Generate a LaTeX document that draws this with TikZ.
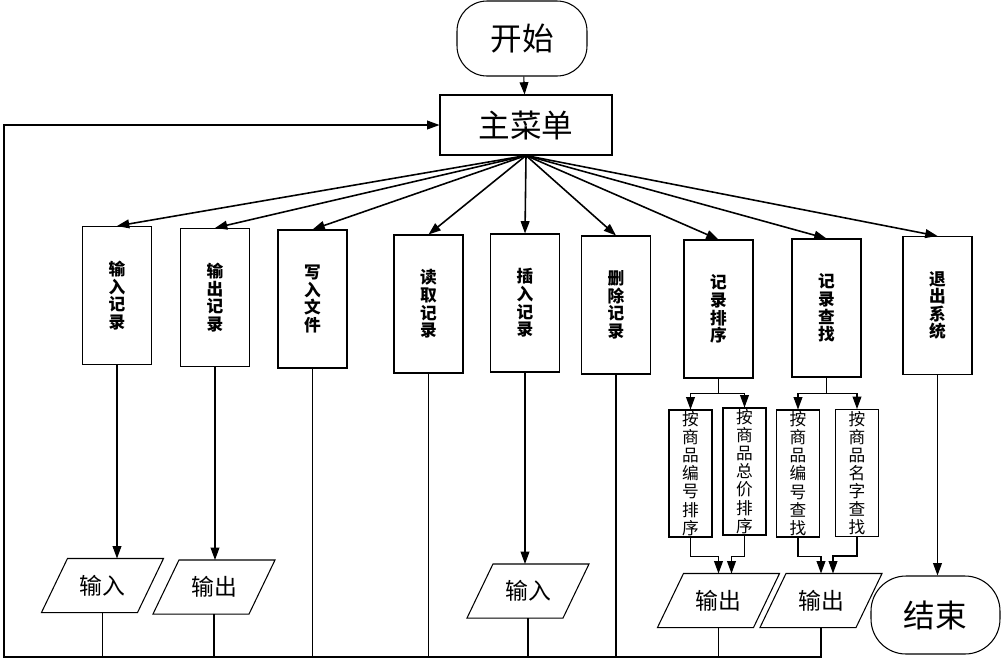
\documentclass[tikz,border=0pt]{standalone}
\usepackage{fontspec}
\newfontfamily\cjk{Noto Sans CJK SC}
\usetikzlibrary{arrows.meta}
\begin{document}
\begin{tikzpicture}[x = 0.02cm, y = -0.02cm, line width = 0.6pt,
    arr/.style = {-{Triangle[length = 7pt, width = 5pt]}},
    fan/.style = {arr, line width = 0.9pt},
    termbox/.style = {draw, rounded corners = 0.6cm, minimum width = 2.6cm, minimum height = 1.5cm, font = \cjk\fontsize{18}{21}\selectfont},
    menubox/.style = {draw, minimum width = 3.44cm, minimum height = 1.2cm, font = \cjk\fontsize{18}{21}\selectfont},
    func/.style = {draw, minimum width = 1.38cm, minimum height = 2.76cm, inner sep = 0pt, align = center, font = \cjk\bfseries\fontsize{9.5}{10}\selectfont},
    subbox/.style = {draw, minimum width = 0.86cm, minimum height = 2.54cm, inner sep = 0pt, align = center, font = \cjk\fontsize{9.5}{10.3}\selectfont},
    iobox/.style = {minimum width = 2.42cm, minimum height = 1.06cm, inner sep = 0pt, font = \cjk\fontsize{13}{15}\selectfont}]
  \useasboundingbox (0, 0) rectangle (1008, 664);
  \node[termbox] (start) at (522, 38.5) {开始};
  \node[menubox] (menu) at (526, 125) {主菜单};
  \node[func] (b1) at (117, 295.5) {输\\入\\记\\录};
  \node[func] (b2) at (215, 297.5) {输\\出\\记\\录};
  \node[func] (b3) at (312.5, 299) {写\\入\\文\\件};
  \node[func] (b4) at (428.5, 304) {读\\取\\记\\录};
  \node[func] (b5) at (525, 303) {插\\入\\记\\录};
  \node[func] (b6) at (616, 305) {删\\除\\记\\录};
  \node[func] (b7) at (718.5, 309) {记\\录\\排\\序};
  \node[func] (b8) at (826.5, 308) {记\\录\\查\\找};
  \node[func] (b9) at (937.5, 305.5) {退\\出\\系\\统};
  \node[subbox] (s1) at (690.5, 473.5) {按\\商\\品\\编\\号\\排\\序};
  \node[subbox] (s2) at (744.5, 471.5) {按\\商\\品\\总\\价\\排\\序};
  \node[subbox] (s3) at (798, 473.5) {按\\商\\品\\编\\号\\查\\找};
  \node[subbox] (s4) at (857, 473) {按\\商\\品\\名\\字\\查\\找};
  \node[iobox] (p1) at (102.5, 585.5) {输入};
  \node[iobox] (p2) at (214, 587) {输出};
  \node[iobox] (p3) at (528, 591) {输入};
  \node[iobox] (o1) at (718.5, 600.5) {输出};
  \node[iobox] (o2) at (821, 600.5) {输出};
  \foreach \n in {p1, p2, p3, o1, o2}
    \draw ([xshift = 0.52cm]\n.north west) -- (\n.north east) -- ([xshift = -0.52cm]\n.south east) -- (\n.south west) -- cycle;
  \node[termbox, rounded corners = 0.7cm, minimum width = 2.58cm, minimum height = 1.56cm] (stop) at (935.5, 615) {结束};
  \coordinate (bl) at (4, 657);
  \draw[arr] (start) -- (menu);
  \foreach \b in {b1, b2, b3, b4, b5, b6, b7, b8, b9}
    \draw[fan] (menu.south) -- (\b.north);
  \draw[arr] (b7.south) -- ++(0, 15) -| (s1.north);
  \draw[arr] (b7.south) -- ++(0, 15) -| (s2.north);
  \draw[arr] (b8.south) -- ++(0, 16) -| (s3.north);
  \draw[arr] (b8.south) -- ++(0, 16) -| (s4.north);
  \draw[arr] (s1.south) -- ++(0, 19) -| (o1.north);
  \draw[arr] (s2.south) -- ++(0, 21) -| ([xshift = 0.26cm]o1.north);
  \draw[arr] (s3.south) -- ++(0, 19) -| (o2.north);
  \draw[arr] (s4.south) -- ++(0, 19) -| ([xshift = 0.24cm]o2.north);
  \draw[arr] (b1.south) -- (b1.south |- p1.north);
  \draw[arr] (b2.south) -- (b2.south |- p2.north);
  \draw[arr] (b5.south) -- (b5.south |- p3.north);
  \draw[arr] (b9.south) -- (b9.south |- stop.north);
  \foreach \n in {p1, p2, b3, b4, p3, b6, o1}
    \draw (\n.south) -- (\n.south |- bl);
  \draw[arr] (o2.south) -- (o2.south |- bl) -- (bl) |- (menu.west);
\end{tikzpicture}
\end{document}
